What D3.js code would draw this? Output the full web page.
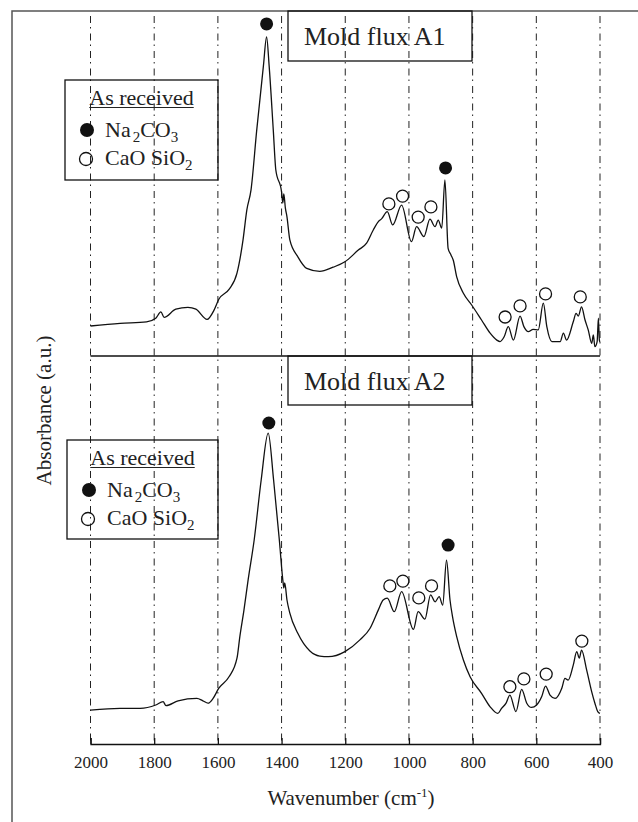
<!DOCTYPE html>
<html>
<head>
<meta charset="utf-8">
<script src="https://cdn.jsdelivr.net/npm/d3@7"></script>
<style>
  body { margin: 0; background: #fff; }
  svg { font-family: 'Liberation Serif', 'Times New Roman', Times, serif; }
</style>
</head>
<body>
<svg width="638" height="822"></svg>
<script>
const wavenumberTicks = [2000, 1800, 1600, 1400, 1200, 1000, 800, 600, 400];
const panelTitles = ['Mold flux A1', 'Mold flux A2'];

// [wavenumber, absorbance (a.u.)]
const spectrumA1 = [
  [2000, 10.0], [1907, 10.9], [1824, 11.4], [1795, 12.6], [1779, 14.7], [1769, 12.9],
  [1732, 15.6], [1694, 16.2], [1669, 15.6], [1634, 12.2], [1612, 15.3], [1597, 18.9],
  [1565, 22.2], [1540, 27.6], [1521, 38.7], [1509, 48.7], [1496, 55.3], [1478, 75.3],
  [1457, 96.7], [1447, 106.4], [1439, 96.7], [1426, 75.3], [1418, 62], [1400, 54.7],
  [1396, 51], [1393, 54], [1388, 49.3], [1383, 46.4], [1374, 38.7], [1349, 33.1],
  [1321, 29.2], [1280, 28.2], [1238, 29.6], [1201, 31.4], [1159, 35.3], [1133, 37.6],
  [1112, 42], [1096, 44.8], [1086, 45.7], [1068, 48.1], [1051, 43.7], [1023, 50.3],
  [992, 38.1], [976, 43.1], [953, 39.8], [934, 45.6], [918, 43.1], [908, 45.3],
  [897, 42.6], [887, 58.7], [877, 35.9], [868, 33.7], [861, 32], [850, 26.4],
  [829, 20.9], [803, 17], [772, 12], [745, 7.6], [724, 5.3], [714, 4.8], [701, 6.4],
  [688, 9.8], [672, 5.3], [651, 13.3], [639, 9.8], [625, 8.1], [610, 8.9], [594, 8.7],
  [578, 17.6], [567, 9.8], [551, 4.8], [525, 4.8], [515, 7.6], [505, 5.3], [484, 11.4],
  [475, 14.2], [468, 13.3], [458, 16.4], [447, 12], [437, 8.7], [426, 4.2], [421, 7],
  [416, 3.1], [409, 4.8], [405, 12.6], [402, 5.3], [400, 4.7]
];

const spectrumA2 = [
  [2000, 11.3], [1907, 11.9], [1844, 11.9], [1795, 13], [1772, 14.1], [1763, 12.8],
  [1725, 14.4], [1666, 15.2], [1647, 14.4], [1631, 13.6], [1615, 15.2], [1597, 18.6],
  [1565, 22.4], [1540, 28.6], [1531, 35.8], [1518, 44.7], [1505, 54.7], [1486, 68],
  [1464, 88], [1442, 103.6], [1425, 88], [1407, 68], [1395, 53.6], [1393, 52],
  [1390, 53.7], [1383, 48], [1374, 43.6], [1349, 36.9], [1311, 31], [1280, 29.3],
  [1253, 29.1], [1201, 30.8], [1154, 34.7], [1122, 38.6], [1096, 44.7], [1081, 48],
  [1068, 48.6], [1046, 44.1], [1023, 50.8], [986, 38.2], [971, 44.1], [950, 41.6],
  [932, 49.7], [918, 47.4], [905, 49.1], [894, 46.3], [882, 61.3], [871, 48],
  [863, 42.4], [850, 35.8], [829, 28], [808, 22.4], [772, 16.9], [745, 12.4],
  [721, 10.2], [709, 11.9], [695, 13.6], [683, 16.3], [664, 10.8], [646, 18.2],
  [630, 13.6], [615, 12.2], [599, 13], [583, 15.8], [571, 19.3], [557, 16.3],
  [541, 15.2], [520, 18.6], [510, 21.9], [500, 21.3], [484, 26.3], [473, 30.8],
  [465, 28.6], [458, 31.3], [442, 24.7], [426, 17.4], [416, 13.6], [407, 10.8], [400, 10.2]
];

// peak markers [wavenumber, absorbance]
const na2co3A1 = [[1447, 110.7], [885, 62.7]];
const caoSio2A1 = [[1063, 50.7], [1020, 53.3], [971, 46.3], [931, 49.7],
                   [698, 13], [651, 16.7], [571, 20.7], [462, 19.7]];
const na2co3A2 = [[1440, 107], [877, 66.3]];
const caoSio2A2 = [[1060, 52.7], [1019, 54.3], [969, 48.7], [929, 52.7],
                   [683, 19.1], [639, 21.7], [569, 23.3], [457, 34.3]];

const svg = d3.select('svg');

const xScale = d3.scaleLinear()
    .domain([2000, 400])
    .range([90.5, 600]);
const yTop = d3.scaleLinear()
    .domain([0, 115])
    .range([356, 11]);
const yBottom = d3.scaleLinear()
    .domain([0, 388 / 3])
    .range([744, 356]);

// outer frame (runs off the right and bottom of the picture)
svg.append('rect')
    .attr('x', 12)
    .attr('y', 11)
    .attr('width', 700)
    .attr('height', 900)
    .attr('fill', 'none')
    .attr('stroke', '#555')
    .attr('stroke-width', 1.5);

// dash-dot grid
svg.append('g')
    .selectAll('line')
    .data(wavenumberTicks)
    .join('line')
    .attr('x1', d => xScale(d))
    .attr('x2', d => xScale(d))
    .attr('y1', 16)
    .attr('y2', 744)
    .attr('stroke', '#222')
    .attr('stroke-width', 1)
    .attr('stroke-dasharray', '7,4,1.5,5');

// panel divider
svg.append('line')
    .attr('x1', xScale(2000))
    .attr('x2', xScale(400))
    .attr('y1', yTop(0))
    .attr('y2', yTop(0))
    .attr('stroke', '#111')
    .attr('stroke-width', 1.3);

const xAxis = d3.axisBottom(xScale)
    .tickValues(wavenumberTicks)
    .tickFormat(d3.format('d'))
    .tickSize(-6)
    .tickPadding(11.5);
const xAxisG = svg.append('g')
    .attr('transform', `translate(0, ${yBottom(0)})`)
    .call(xAxis)
    .attr('font-family', null)
    .attr('font-size', 17);
xAxisG.selectAll('path, line')
    .attr('stroke', '#111')
    .attr('stroke-width', 1.3);
xAxisG.selectAll('text')
    .attr('fill', '#222');

const xTitle = svg.append('text')
    .attr('x', 351)
    .attr('y', 805)
    .attr('text-anchor', 'middle')
    .attr('font-size', 21)
    .attr('fill', '#222');
xTitle.append('tspan').text('Wavenumber (cm');
xTitle.append('tspan').attr('dy', -8).attr('font-size', 13).text('-1');
xTitle.append('tspan').attr('dy', 8).text(')');

svg.append('text')
    .attr('transform', 'translate(51, 410.5) rotate(-90)')
    .attr('text-anchor', 'middle')
    .attr('font-size', 21)
    .attr('fill', '#222')
    .text('Absorbance (a.u.)');

function drawSpectrum(data, yScale) {
  const line = d3.line()
      .x(d => xScale(d[0]))
      .y(d => yScale(d[1]))
      .curve(d3.curveMonotoneX);
  svg.append('path')
      .attr('d', line(data))
      .attr('fill', 'none')
      .attr('stroke', '#111')
      .attr('stroke-width', 1.3)
      .attr('stroke-linejoin', 'round');
}

function drawMarkers(filled, open, yScale) {
  svg.append('g')
      .selectAll('circle')
      .data(open)
      .join('circle')
      .attr('cx', d => xScale(d[0]))
      .attr('cy', d => yScale(d[1]))
      .attr('r', 6)
      .attr('fill', '#fff')
      .attr('stroke', '#111')
      .attr('stroke-width', 1.3);
  svg.append('g')
      .selectAll('circle')
      .data(filled)
      .join('circle')
      .attr('cx', d => xScale(d[0]))
      .attr('cy', d => yScale(d[1]))
      .attr('r', 6.5)
      .attr('fill', '#111');
}

function drawTitle(title, x, y, w, h) {
  svg.append('rect')
      .attr('x', x)
      .attr('y', y)
      .attr('width', w)
      .attr('height', h)
      .attr('fill', 'none')
      .attr('stroke', '#111')
      .attr('stroke-width', 1.3);
  svg.append('text')
      .attr('x', x + 16)
      .attr('y', y + 34)
      .attr('font-size', 26)
      .attr('fill', '#222')
      .text(title);
}

function drawLegend(x, y, w, h) {
  const g = svg.append('g').attr('fill', '#222').attr('font-size', 22);
  g.append('rect')
      .attr('x', x)
      .attr('y', y)
      .attr('width', w)
      .attr('height', h)
      .attr('fill', 'none')
      .attr('stroke', '#111')
      .attr('stroke-width', 1.3);
  const head = g.append('text')
      .attr('x', x + w / 2)
      .attr('y', y + 25)
      .attr('text-anchor', 'middle')
      .text('As received');
  const len = head.node().getComputedTextLength();
  g.append('line')
      .attr('x1', x + w / 2 - len / 2)
      .attr('x2', x + w / 2 + len / 2)
      .attr('y1', y + 27.5)
      .attr('y2', y + 27.5)
      .attr('stroke', '#222')
      .attr('stroke-width', 1.1);

  g.append('circle')
      .attr('cx', x + 22)
      .attr('cy', y + 50)
      .attr('r', 7)
      .attr('fill', '#111');
  const na = g.append('text')
      .attr('x', x + 40)
      .attr('y', y + 57);
  na.append('tspan').text('Na');
  na.append('tspan').attr('dx', 2).attr('dy', 5).attr('font-size', 15).text('2');
  na.append('tspan').attr('dy', -5).text('CO');
  na.append('tspan').attr('dy', 5).attr('font-size', 15).text('3');

  g.append('circle')
      .attr('cx', x + 21)
      .attr('cy', y + 79)
      .attr('r', 6.5)
      .attr('fill', 'none')
      .attr('stroke', '#111')
      .attr('stroke-width', 1.3);
  const cao = g.append('text')
      .attr('x', x + 40)
      .attr('y', y + 85);
  cao.append('tspan').text('CaO SiO');
  cao.append('tspan').attr('dy', 5).attr('font-size', 15).text('2');
}

drawSpectrum(spectrumA1, yTop);
drawSpectrum(spectrumA2, yBottom);
drawMarkers(na2co3A1, caoSio2A1, yTop);
drawMarkers(na2co3A2, caoSio2A2, yBottom);

drawTitle(panelTitles[0], 288, 11, 184, 50);
drawTitle(panelTitles[1], 288, 356, 184, 49);
drawLegend(65, 80, 153, 100);
drawLegend(67, 440, 151, 99);
</script>
</body>
</html>
